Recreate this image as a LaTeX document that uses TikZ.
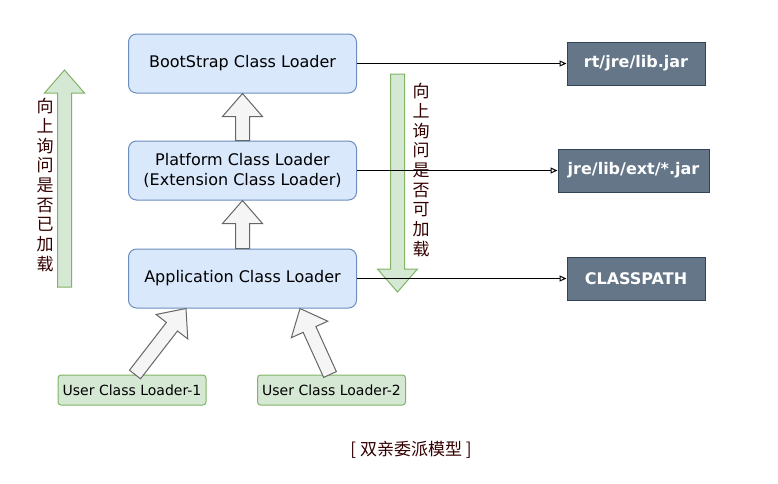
\documentclass[tikz,border=0pt]{standalone}
\usepackage{fontspec}
\setmainfont{DejaVu Sans}
\newfontfamily\cjk{Noto Sans CJK SC}
\usetikzlibrary{calc,arrows.meta}

\definecolor{loaderfill}{HTML}{DAE8FC}
\definecolor{loaderline}{HTML}{6C8EBF}
\definecolor{userfill}{HTML}{D5E8D4}
\definecolor{userline}{HTML}{82B366}
\definecolor{pathfill}{HTML}{647687}
\definecolor{pathline}{HTML}{314354}
\definecolor{fatfill}{HTML}{F5F5F5}
\definecolor{fatline}{HTML}{666666}
\definecolor{note}{HTML}{330000}

\tikzset{
  loader/.style={draw=loaderline, fill=loaderfill, rounded corners=8pt, line width=1pt,
    minimum width=228pt, minimum height=59pt, align=center,
    font=\fontsize{16}{20}\selectfont},
  jarbox/.style={draw=pathline, fill=pathfill, line width=1pt, text=white,
    minimum width=138pt, minimum height=43pt, font=\bfseries\fontsize{16}{20}\selectfont},
  userbox/.style={draw=userline, fill=userfill, rounded corners=3pt, line width=1pt,
    minimum width=148pt, minimum height=30pt, inner sep=1pt,
    font=\fontsize{14}{16}\selectfont},
  vtext/.style={text=note, align=center, inner sep=0pt,
    font=\cjk\fontsize{17}{19.7}\selectfont},
  grayfat/.style={draw=fatline, fill=fatfill, line width=1pt},
  greenfat/.style={draw=userline, fill=userfill, line width=1pt},
  feed/.style={line width=1pt, -{Triangle[open,length=7pt,width=6pt]}}
}

% block arrow: style, tail, tip
\newcommand{\fatarrow}[3]{%
  \coordinate (fat-h) at ($(#3)!23pt!(#2)$);
  \draw[#1] ($(#2)!7pt!90:(#3)$) -- ($(fat-h)!7pt!90:(#3)$) -- ($(fat-h)!20pt!90:(#3)$)
    -- (#3) -- ($(fat-h)!20pt!-90:(#3)$) -- ($(fat-h)!7pt!-90:(#3)$)
    -- ($(#2)!7pt!-90:(#3)$) -- cycle;
}

\begin{document}
\begin{tikzpicture}[x=1pt, y=-1pt]
    \useasboundingbox (0,0) rectangle (778,483);

    \node[loader] (boot) at (242.5,63.5) {BootStrap Class Loader};
    \node[loader] (plat) at (242.5,170.5) {Platform Class Loader\\(Extension Class Loader)};
    \node[loader] (app)  at (242.5,278.5) {Application Class Loader};

    \node[jarbox] (rt)  at (636,63.5) {rt/jre/lib.jar};
    \node[jarbox, minimum width=151pt] (ext) at (633.5,170.5) {jre/lib/ext/*.jar};
    \node[jarbox] (cp)  at (636,278.5) {CLASSPATH};

    \node[userbox] (user1) at (132,390) {User Class Loader-1};
    \node[userbox] (user2) at (331.5,390) {User Class Loader-2};

    % green hints
    \coordinate (askbot) at (64.5,287);
    \coordinate (asktop) at (64.5,70);
    \coordinate (loadtop) at (397.5,74);
    \coordinate (loadbot) at (397.5,292);
    \fatarrow{greenfat}{askbot}{asktop}
    \fatarrow{greenfat}{loadtop}{loadbot}

    \node[vtext] (askup) at (45,185) {向\\上\\询\\问\\是\\否\\已\\加\\载};
    \node[vtext] (askload) at (421,170) {向\\上\\询\\问\\是\\否\\可\\加\\载};

    % parent chain
    \fatarrow{grayfat}{plat.north}{boot.south}
    \fatarrow{grayfat}{app.north}{plat.south}
    \fatarrow{grayfat}{[xshift=3pt]user1.north}{[xshift=-56.5pt]app.south}
    \fatarrow{grayfat}{[xshift=-1.5pt]user2.north}{[xshift=57.5pt]app.south}

    \draw[feed] (boot.east) -- (rt.west);
    \draw[feed] (plat.east) -- (ext.west);
    \draw[feed] (app.east) -- (cp.west);

    \node[text=note, font=\cjk\fontsize{17}{20}\selectfont] (title) at (411,450) {[ 双亲委派模型 ]};
\end{tikzpicture}
\end{document}
